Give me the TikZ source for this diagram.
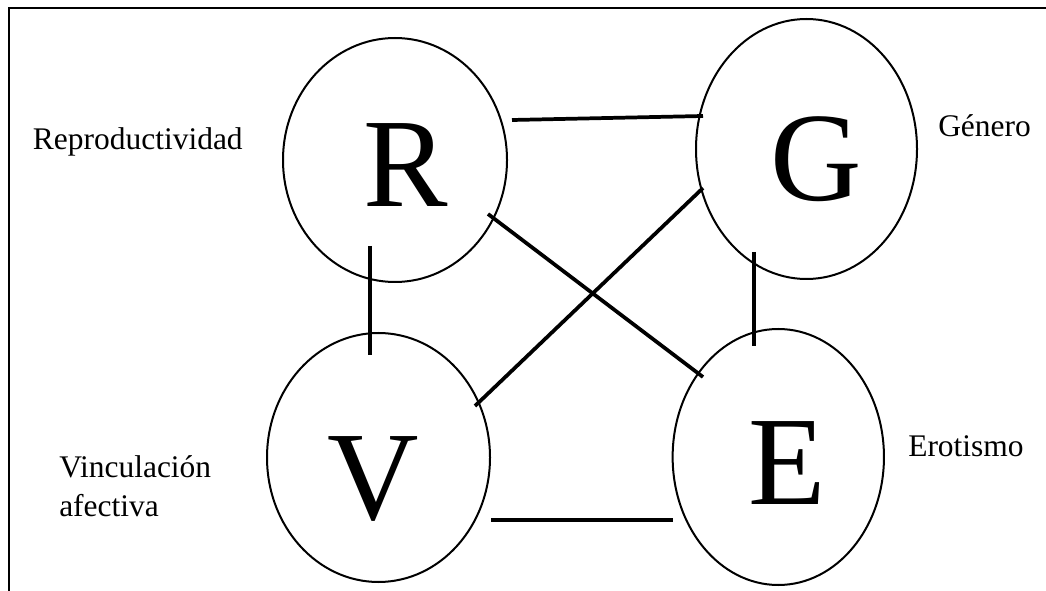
\documentclass[tikz,border=0pt]{standalone}
\usepackage{fontspec}
\setmainfont{Liberation Serif}
\usetikzlibrary{shapes.geometric}
\begin{document}
\begin{tikzpicture}[x=0.75pt,y=-0.75pt,
  circ/.style={draw, line width=1.5pt, ellipse, inner sep=0pt},
  bigletter/.style={font=\fontsize{95pt}{95pt}\selectfont, inner sep=0pt, anchor=base},
  lbl/.style={font=\fontsize{23.6pt}{29.25pt}\selectfont, inner sep=0pt, anchor=base west, align=left},
  link/.style={line width=2.8pt},
  frame/.style={line width=2pt}]
\useasboundingbox (0,0) rectangle (1046,591);
\draw[frame] (9,591) -- (9,8) -- (1046,8);

% ellipses
\node[circ, minimum width=168pt, minimum height=183pt] (R) at (395,160) {};
\node[circ, minimum width=165.75pt, minimum height=195pt] (G) at (806.5,149) {};
\node[circ, minimum width=167.25pt, minimum height=186.75pt] (V) at (378.5,457.5) {};
\node[circ, minimum width=158.5pt, minimum height=192pt] (E) at (778.3,457) {};

% big letters
\node[bigletter] (Rl) at (405.5,207) {R};
\node[bigletter] (Gl) at (816.5,201) {G};
\node[bigletter] (Vl) at (373.5,519) {V};
\node[bigletter] (El) at (787.5,504) {E};

% labels
\node[lbl] (Rt) at (32.7,149.3) {Reproductividad};
\node[lbl] (Gt) at (938,136.7) {Género};
\node[lbl] (Et) at (908,456.7) {Erotismo};
\node[lbl] (Vt) at (59,516) {Vinculación\\afectiva};

% connector end points
\coordinate (rg1) at (512,120);
\coordinate (rg2) at (703,116);
\coordinate (re1) at (488,214);
\coordinate (re2) at (703,377);
\coordinate (vg1) at (475,406);
\coordinate (vg2) at (703,188);
\coordinate (rv1) at (370,246);
\coordinate (rv2) at (370,355);
\coordinate (ge1) at (754,252);
\coordinate (ge2) at (754,346);
\coordinate (ve1) at (491,520);
\coordinate (ve2) at (673,520);

\draw[link] (rg1) -- (rg2);
\draw[link] (re1) -- (re2);
\draw[link] (vg1) -- (vg2);
\draw[link] (rv1) -- (rv2);
\draw[link] (ge1) -- (ge2);
\draw[link] (ve1) -- (ve2);
\end{tikzpicture}
\end{document}
